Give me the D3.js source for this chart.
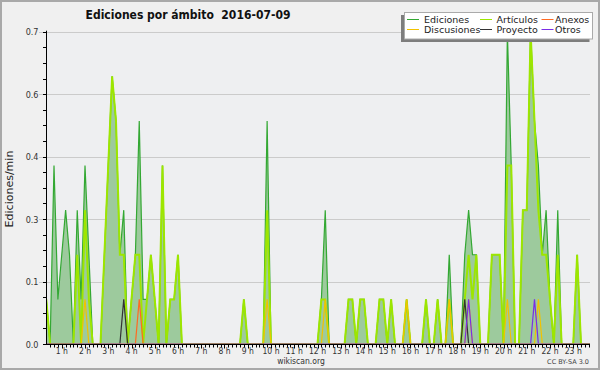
<!DOCTYPE html>
<html><head><meta charset="utf-8">
<script src="https://cdn.jsdelivr.net/npm/d3@7"></script>
<style>html,body{margin:0;padding:0;background:#f0f0f0;}svg{display:block}</style>
</head><body><svg id="c" width="600" height="370"></svg>
<script>
const titleText = "Ediciones por ámbito  2016-07-09";
const yLabelText = "Ediciones/min";
const footerText = "wikiscan.org";
const licenseText = "CC BY-SA 3.0";
const hourLabels = ["1 h","2 h","3 h","4 h","5 h","6 h","7 h","8 h","9 h","10 h","11 h","12 h","13 h","14 h","15 h","16 h","17 h","18 h","19 h","20 h","21 h","22 h","23 h"];
const hourTicks = [1,2,3,4,5,6,7,8,9,10,11,12,13,14,15,16,17,18,19,20,21,22,23];
const yTicks = [0, 0.14, 0.28, 0.42, 0.56, 0.7];
// one value per 10-minute slot, starting 00:00 (edits per minute)
const ediciones = [
0,0,0.1,0,0.4,0.1,0.2,0.3,0.2,0,0.3,0.1,
0.4,0.2,0,0,0,0.2,0.4,0.6,0.5,0.2,0.3,0,
0.1,0.2,0.5,0.1,0.1,0.2,0.1,0,0.4,0,0.1,0.1,
0.2,0,0,0,0,0,0,0,0,0,0,0,
0,0,0,0,0,0.1,0,0,0,0,0,0.5,
0,0,0,0,0,0,0,0,0,0,0,0,
0,0.1,0.3,0,0,0,0,0,0.1,0.1,0,0.1,
0.1,0,0,0,0.1,0.1,0,0.1,0,0,0,0.1,
0,0,0,0,0.1,0,0,0.1,0,0,0.2,0,
0,0,0.2,0.3,0.2,0.2,0,0,0,0.2,0.2,0.2,
0,0.7,0.4,0,0,0.3,0.3,0.7,0.5,0.4,0.2,0.3,
0.1,0,0.3,0,0,0,0,0.2,0,0,0,0];
const articulos = [
0,0,0.1,0,0,0,0,0,0,0,0.2,0,
0.3,0.1,0,0,0,0.2,0.4,0.6,0.5,0.2,0.2,0,
0.1,0.2,0.2,0,0.1,0.2,0.1,0,0.4,0,0.1,0.1,
0.2,0,0,0,0,0,0,0,0,0,0,0,
0,0,0,0,0,0.1,0,0,0,0,0,0.3,
0,0,0,0,0,0,0,0,0,0,0,0,
0,0.1,0.1,0,0,0,0,0,0.1,0.1,0,0.1,
0.1,0,0,0,0.1,0.1,0,0.1,0,0,0,0.1,
0,0,0,0,0.1,0,0,0.1,0,0,0.1,0,
0,0,0.1,0.2,0.1,0.2,0,0,0,0.2,0.2,0.2,
0,0.4,0.4,0,0,0.3,0.3,0.7,0.5,0.3,0.2,0.2,
0.1,0,0.2,0,0,0,0,0.2,0,0,0,0];
const discusiones = [
0,0,0,0,0,0,0,0,0,0,0,0,
0.1,0,0,0,0,0,0,0,0,0,0,0,
0,0,0,0,0,0,0,0,0,0,0,0,
0,0,0,0,0,0,0,0,0,0,0,0,
0,0,0,0,0,0,0,0,0,0,0,0.1,
0,0,0,0,0,0,0,0,0,0,0,0,
0,0,0.1,0,0,0,0,0,0,0,0,0,
0,0,0,0,0,0,0,0,0,0,0,0.1,
0,0,0,0,0,0,0,0,0,0,0.1,0,
0,0,0,0.1,0,0,0,0,0,0,0,0,
0,0.1,0,0,0,0,0,0,0,0.1,0,0,
0,0,0,0,0,0,0,0,0,0,0,0];
const anexos = [
0,0,0,0,0,0,0,0,0,0,0,0,
0,0,0,0,0,0,0,0,0,0,0,0,
0,0,0.1,0,0,0,0,0,0,0,0,0,
0,0,0,0,0,0,0,0,0,0,0,0,
0,0,0,0,0,0,0,0,0,0,0,0,
0,0,0,0,0,0,0,0,0,0,0,0,
0,0,0,0,0,0,0,0,0,0,0,0,
0,0,0,0,0,0,0,0,0,0,0,0,
0,0,0,0,0,0,0,0,0,0,0,0,
0,0,0,0,0,0,0,0,0,0,0,0,
0,0,0,0,0,0,0,0,0,0,0,0,
0,0,0,0,0,0,0,0,0,0,0,0];
const proyecto = [
0,0,0,0,0,0,0,0,0,0,0,0,
0,0,0,0,0,0,0,0,0,0,0.1,0,
0,0,0,0,0,0,0,0,0,0,0,0,
0,0,0,0,0,0,0,0,0,0,0,0,
0,0,0,0,0,0,0,0,0,0,0,0,
0,0,0,0,0,0,0,0,0,0,0,0,
0,0,0,0,0,0,0,0,0,0,0,0,
0,0,0,0,0,0,0,0,0,0,0,0,
0,0,0,0,0,0,0,0,0,0,0,0,
0,0,0.1,0,0,0,0,0,0,0,0,0,
0,0,0,0,0,0,0,0,0,0,0,0,
0,0,0,0,0,0,0,0,0,0,0,0];
const otros = [
0,0,0,0,0,0,0,0,0,0,0,0,
0,0,0,0,0,0,0,0,0,0,0,0,
0,0,0,0,0,0,0,0,0,0,0,0,
0,0,0,0,0,0,0,0,0,0,0,0,
0,0,0,0,0,0,0,0,0,0,0,0,
0,0,0,0,0,0,0,0,0,0,0,0,
0,0,0,0,0,0,0,0,0,0,0,0,
0,0,0,0,0,0,0,0,0,0,0,0,
0,0,0,0,0,0,0,0,0,0,0,0,
0,0,0,0.1,0,0,0,0,0,0,0,0,
0,0,0,0,0,0,0,0,0.1,0,0,0,
0,0,0,0,0,0,0,0,0,0,0,0];
const legendNames = ["Ediciones","Artículos","Anexos","Discusiones","Proyecto","Otros"];
const colors = {Ediciones:"#33a833", "Artículos":"#9de600", Anexos:"#ff6a22", Discusiones:"#f2c200", Proyecto:"#333333", Otros:"#7a2ee6"};
const fillColor = "#9dca9d";

const FONT = "'DejaVu Sans', sans-serif";
const svg = d3.select("#c");
const W = 600, H = 370;
const plot = {left:47, right:590, top:31.7, bottom:344};

// background + border
svg.append("rect").attr("x",0).attr("y",0).attr("width",W).attr("height",H).attr("fill","#f0f0f0");
svg.append("rect").attr("x",plot.left).attr("y",plot.top).attr("width",plot.right-plot.left).attr("height",plot.bottom-plot.top).attr("fill","#eeeff1");
svg.append("rect").attr("x",1).attr("y",1).attr("width",W-2).attr("height",H-2).attr("fill","none").attr("stroke","#a9a9a9").attr("stroke-width",2);

// scales: time in hours
const x = d3.scaleLinear().domain([0,24]).range([38.5, 38.5+23.25*24]);
const y = d3.scaleLinear().domain([0,0.7]).range([plot.bottom, plot.top]);
const slotHour = i => i/6;

// grid lines
svg.append("g").selectAll("line").data(yTicks.slice(1)).join("line")
  .attr("x1",39).attr("x2",plot.right).attr("y1",d=>Math.round(y(d))+0.5).attr("y2",d=>Math.round(y(d))+0.5)
  .attr("stroke","#cbcbcb").attr("stroke-width",1);

// clip
svg.append("clipPath").attr("id","pc").append("rect")
  .attr("x",plot.left).attr("y",plot.top-2).attr("width",plot.right-plot.left).attr("height",plot.bottom-0.5-(plot.top-2));
const g = svg.append("g").attr("clip-path","url(#pc)");

const area = d3.area().x((d,i)=>x(slotHour(i))).y0(plot.bottom).y1(d=>y(d));
const line = d3.line().x((d,i)=>x(slotHour(i))).y(d=>y(d));

g.append("path").datum(ediciones).attr("d",area).attr("fill",fillColor);
g.append("path").datum(ediciones).attr("d",line).attr("fill","none").attr("stroke",colors.Ediciones).attr("stroke-width",1.2);
g.append("path").datum(articulos).attr("d",line).attr("fill","none").attr("stroke",colors["Artículos"]).attr("stroke-width",2);
[[discusiones,"Discusiones"],[anexos,"Anexos"],[proyecto,"Proyecto"],[otros,"Otros"]].forEach(([s,n])=>{
  g.append("path").datum(s).attr("d",line).attr("fill","none").attr("stroke",colors[n]).attr("stroke-width",1.2);
});

// axes
const ax = svg.append("g");
ax.append("line").attr("x1",46.5).attr("x2",46.5).attr("y1",plot.top-1).attr("y2",plot.bottom+0.5).attr("stroke","#000");
ax.append("line").attr("x1",46).attr("x2",plot.right).attr("y1",344.5).attr("y2",344.5).attr("stroke","#000");
// y ticks
const yMinor = d3.range(0, 0.7001, 0.035);
ax.selectAll(".ym").data(yMinor).join("line").attr("x1",43).attr("x2",46.5)
  .attr("y1",d=>Math.round(y(d))+0.5).attr("y2",d=>Math.round(y(d))+0.5).attr("stroke","#000");
ax.selectAll(".yl").data(yTicks).join("text").attr("x",38.5).attr("y",d=>y(d)+3.5)
  .attr("text-anchor","end").attr("font-family",FONT).attr("font-size",9).attr("fill","#333")
  .style("font-stretch","condensed").text(d=>d3.format(".1f")(d));
// x ticks: every 10 minutes
const xMinor = d3.range(0, 144).map(slotHour).filter(h=>x(h)>=plot.left && x(h)<=plot.right);
ax.selectAll(".xm").data(xMinor).join("line")
  .attr("x1",d=>Math.round(x(d))+0.5).attr("x2",d=>Math.round(x(d))+0.5)
  .attr("y1",344.5).attr("y2",d=>Number.isInteger(Math.round(d*6)/6)?348.5:347.5).attr("stroke","#000");
ax.selectAll(".xl").data(hourTicks).join("text").attr("x",d=>x(d)).attr("y",353.5)
  .attr("text-anchor","middle").attr("font-family",FONT).attr("font-size",8.5).attr("fill","#333")
  .style("font-stretch","condensed").text((d,i)=>hourLabels[i]);

// texts
svg.append("text").attr("x",188).attr("y",18.5).attr("text-anchor","middle").attr("font-family",FONT)
  .attr("font-weight","bold").attr("font-size",12).attr("fill","#111").style("font-stretch","condensed")
  .style("white-space","pre").attr("xml:space","preserve").text(titleText);
svg.append("text").attr("transform","translate(13,189) rotate(-90)").attr("text-anchor","middle")
  .attr("font-family",FONT).attr("font-size",11).attr("fill","#222").text(yLabelText);
svg.append("text").attr("x",301).attr("y",364).attr("text-anchor","middle").attr("font-family",FONT)
  .attr("font-size",8.5).attr("fill","#333").style("font-stretch","condensed").text(footerText);
svg.append("text").attr("x",589).attr("y",364).attr("text-anchor","end").attr("font-family",FONT)
  .attr("font-size",6.5).attr("fill","#444").text(licenseText);

// legend
const lg = svg.append("g");
lg.append("rect").attr("x",401).attr("y",15).attr("width",188.5).attr("height",27).attr("fill","#7d7d7d");
lg.append("rect").attr("x",404.5).attr("y",12.5).attr("width",188).attr("height",26.5).attr("fill","#fff").attr("stroke","#aaa");
const lx = [407, 480, 541.5];
const ltx = [424, 496.5, 555];
const lyLine = [19.5, 29.5];
legendNames.forEach((n,i)=>{
  const c = i%3, r = Math.floor(i/3);
  lg.append("line").attr("x1",lx[c]).attr("x2",lx[c]+12).attr("y1",lyLine[r]).attr("y2",lyLine[r]).attr("stroke",colors[n]).attr("stroke-width",1);
  lg.append("text").attr("x",ltx[c]).attr("y",lyLine[r]+3.5).attr("font-family",FONT).attr("font-size",9.5)
    .attr("fill","#222").text(n);
});
</script></body></html>
